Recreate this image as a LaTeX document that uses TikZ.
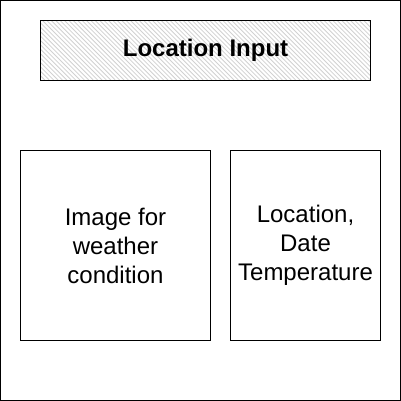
\documentclass[tikz,border=0pt]{standalone}
\usepackage{fontspec}
\setmainfont{Liberation Sans}
\begin{document}
\begin{tikzpicture}[x=1pt,y=-1pt,
  frame/.style={draw=black,line width=1pt},
  txt/.style={align=center,inner sep=0pt,font=\fontsize{24}{29}\selectfont},
  hatch/.style={draw=black!18,line width=0.8pt}]
\useasboundingbox (0,0) rectangle (401,401);
\draw[frame] (0.5,0.5) rectangle (400.5,400.5);
\begin{scope}
  \clip (40.5,20.5) rectangle (370.5,80.5);
  \foreach \i in {-64,-59.6,...,340}{
    \draw[hatch] (40+\i,20) -- (40+\i+60,80);
  }
\end{scope}
\draw[frame] (40.5,20.5) rectangle (370.5,80.5);
\node[txt,font=\fontsize{24}{29}\selectfont\bfseries] (title) at (205.5,50.5) {Location Input};
\draw[frame] (20.5,150.5) rectangle (210.5,340.5);
\node[txt] (img) at (115.5,245.5) {Image for\\weather\\condition};
\draw[frame] (230.5,150.5) rectangle (380.5,340.5);
\node[txt] (loc) at (305.5,245.5) {Location,\\Date\\Temperature};
\end{tikzpicture}
\end{document}
